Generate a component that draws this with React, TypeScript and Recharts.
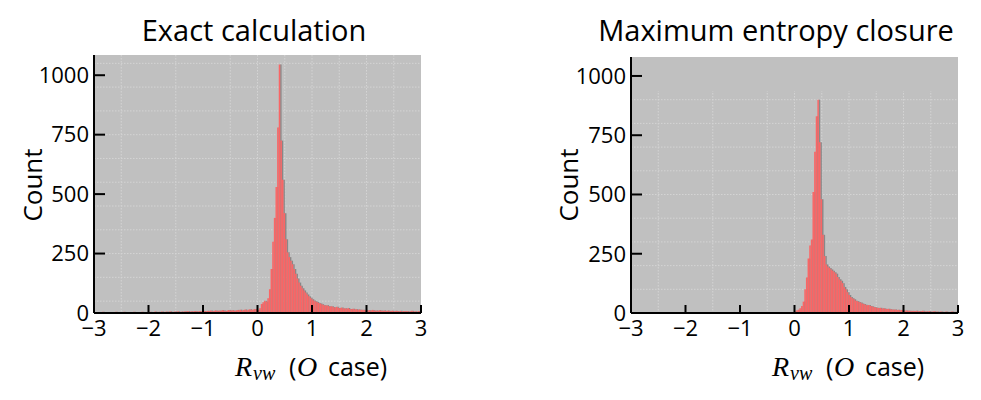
import { BarChart, Bar, XAxis, YAxis, CartesianGrid, ReferenceArea } from 'recharts';

// histogram bins: 200 bins of width 0.03 on [-3, 3]
const BIN_START = -3;
const BIN_WIDTH = 0.03;

const exactCounts = [
  3, 2, 4, 3, 2, 5, 3, 2, 4, 3, 2, 4, 3, 5, 2, 3, 4, 2, 5, 3,
  4, 3, 2, 4, 5, 3, 4, 2, 3, 5, 4, 3, 4,
  4, 5, 3, 4, 6, 4, 5, 3, 6, 4, 5, 6, 4, 7, 5, 4, 6, 5, 7, 4,
  6, 5, 7, 6, 8, 5, 7, 6, 8, 7, 6, 8, 7, 9,
  8, 7, 9, 8, 10, 7, 9, 11, 8, 10, 9, 12, 10, 8, 11, 13, 10, 12, 11, 9,
  13, 12, 14, 11, 13, 15, 12, 14, 16, 13, 15, 17, 14,
  12, 20, 38, 45, 52, 48, 62, 100, 185, 300, 400, 530, 780, 1045, 725, 560, 420, 310, 255, 235,
  220, 205, 185, 165, 145, 128, 115, 104, 95, 86, 78, 70, 64, 58, 53, 49, 46, 42, 40, 37,
  34, 31, 33, 29, 27, 28, 25, 23, 26, 22, 21, 23, 19, 20, 18, 21, 17, 16, 18, 15,
  16, 14, 15, 13, 14, 12, 13, 11, 12, 11, 13, 10, 11, 9, 12, 10, 9, 11, 8, 10,
  9, 8, 10, 7, 9, 8, 7, 9, 6, 8, 7, 8, 6, 7, 9, 6, 7, 5, 8, 6,
];

const maxEntropyCounts = [
  0, 0, 1, 0, 0, 0, 0, 0, 1, 0, 0, 0, 0, 0, 0, 1, 0, 0, 0, 0,
  0, 0, 0, 1, 0, 0, 0, 0, 0, 0, 0, 0, 1, 0, 0, 0, 0, 0, 0, 1,
  0, 0, 0, 0, 0, 0, 0, 1, 0, 0, 0, 0, 2, 0, 0, 0, 1, 0, 0, 0,
  0, 1, 0, 0, 0, 0, 1, 0, 0, 0, 2, 0, 0, 1, 0, 0, 0, 1, 0, 0,
  0, 1, 0, 0, 2, 0, 1, 0, 0, 1, 1, 0, 2, 1, 0, 2, 1, 3, 2, 4,
  6, 12, 14, 20, 30, 48, 100, 150, 230, 285, 310, 510, 680, 830, 900, 720, 480, 330, 240, 205,
  196, 190, 184, 178, 172, 166, 152, 142, 136, 126, 110, 100, 88, 76, 67, 62, 58, 52, 50, 46,
  44, 40, 38, 35, 33, 34, 30, 28, 25, 24, 22, 21, 22, 19, 20, 18, 17, 18, 16, 15,
  14, 15, 13, 14, 12, 13, 11, 10, 11, 9, 10, 8, 9, 8, 10, 7, 8, 7, 9, 6,
  7, 6, 8, 5, 6, 7, 5, 6, 4, 6, 5, 4, 6, 5, 4, 5, 6, 4, 5, 4,
];

const xTicks = [-3, -2, -1, 0, 1, 2, 3];
const yTicks = [0, 250, 500, 750, 1000];
const xGrid = [-2.5, -2, -1.5, -1, -0.5, 0, 0.5, 1, 1.5, 2, 2.5];
const yGridExact = [50, 100, 150, 200, 250, 300, 350, 400, 450, 500, 550, 600, 650, 700, 750, 800, 850, 900, 950, 1000, 1050];
const yGridMaxEntropy = [50, 100, 150, 200, 250, 300, 350, 400, 450, 500, 550, 600, 650, 700, 750, 800, 850, 900];

const FONT = '"Open Sans", sans-serif';
const BG = '#c0c0c0';

const toBins = (counts: number[]) =>
  counts.map((v, i) => ({ x: BIN_START + BIN_WIDTH * (i + 0.5), v }));

const fmt = (v: number) => String(v).replace('-', '\u2212');

interface HistProps {
  counts: number[];
  yMax: number;
  yGrid: number[];
  gridTop?: number;
  width: number;
  top: number;
  right: number;
}

function Histogram({ counts, yMax, yGrid, gridTop, width, top, right }: HistProps) {
  const data = toBins(counts);
  const tick = { fill: '#000', fontSize: 22, fontFamily: FONT };
  return (
    <BarChart width={width} height={400} data={data} margin={{ top, right, left: 0, bottom: 57 }}>
      <CartesianGrid
        fill={BG}
        fillOpacity={1}
        stroke="#d4d4d4"
        strokeDasharray="1.5 1.5"
        verticalValues={xGrid}
        horizontalValues={yGrid}
        xAxisId="main"
      />
      {gridTop !== undefined && (
        <ReferenceArea xAxisId="main" x1={-2.97} x2={3} y1={gridTop} y2={yMax} fill={BG} fillOpacity={1} stroke="none" />
      )}
      <XAxis
        xAxisId="main"
        dataKey="x"
        type="number"
        domain={[-3, 3]}
        ticks={xTicks}
        tickFormatter={fmt}
        height={30}
        axisLine={{ stroke: '#000', strokeWidth: 2 }}
        tickLine={{ stroke: '#000', strokeWidth: 2 }}
        tickSize={-8}
        tickMargin={15}
        tick={tick}
        allowDataOverflow
      />
      <XAxis xAxisId="shadow" dataKey="x" type="number" domain={[-3.025, 2.975]} hide allowDataOverflow />
      <YAxis
        type="number"
        domain={[0, yMax]}
        ticks={yTicks}
        width={94}
        axisLine={{ stroke: '#000', strokeWidth: 2 }}
        tickLine={{ stroke: '#000', strokeWidth: 2 }}
        tickSize={-11}
        tickMargin={16}
        tick={tick}
        allowDataOverflow
      />
      <Bar xAxisId="shadow" dataKey="v" fill="#888888" barSize={2} isAnimationActive={false} />
      <Bar xAxisId="main" dataKey="v" fill="#fb6565" barSize={2} isAnimationActive={false} />
    </BarChart>
  );
}

function AxisTitle({ x }: { x: number }) {
  const serif = '"Liberation Serif", "DejaVu Serif", serif';
  return (
    <text y={376} fill="#000">
      <tspan x={x} fontFamily={serif} fontStyle="italic" fontSize={28}>R</tspan>
      <tspan x={x + 18} dy={4} fontFamily={serif} fontStyle="italic" fontSize={20}>vw</tspan>
      <tspan x={x + 54} dy={-4} fontFamily={FONT} fontSize={25}>(</tspan>
      <tspan x={x + 62} fontFamily={serif} fontStyle="italic" fontSize={28}>O</tspan>
      <tspan x={x + 93} fontFamily={FONT} fontSize={25}>case)</tspan>
    </text>
  );
}

export default function App() {
  return (
    <div style={{ position: 'absolute', left: 0, top: 0, width: 981, height: 400, background: '#fff' }}>
      <div style={{ position: 'absolute', left: 0, top: 0 }}>
        <Histogram counts={exactCounts} yMax={1085} yGrid={yGridExact} width={470} top={55} right={49} />
      </div>
      <div style={{ position: 'absolute', left: 537, top: 0 }}>
        <Histogram
          counts={maxEntropyCounts}
          yMax={1080}
          yGrid={yGridMaxEntropy}
          gridTop={937}
          width={444}
          top={57}
          right={23}
        />
      </div>
      <svg width={981} height={400} style={{ position: 'absolute', left: 0, top: 0, pointerEvents: 'none' }}>
        <text x={254} y={41} textAnchor="middle" fontFamily={FONT} fontSize={29} fill="#000">
          Exact calculation
        </text>
        <text x={776} y={41} textAnchor="middle" fontFamily={FONT} fontSize={29} fill="#000">
          Maximum entropy closure
        </text>
        <text transform="translate(42,185) rotate(-90)" textAnchor="middle" fontFamily={FONT} fontSize={26} fill="#000">
          Count
        </text>
        <text transform="translate(578,185) rotate(-90)" textAnchor="middle" fontFamily={FONT} fontSize={26} fill="#000">
          Count
        </text>
        <AxisTitle x={235} />
        <AxisTitle x={772} />
      </svg>
    </div>
  );
}
